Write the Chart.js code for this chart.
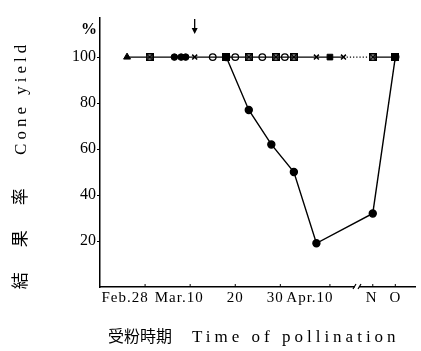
<!DOCTYPE html>
<html><head><meta charset="utf-8">
<script src="https://cdn.jsdelivr.net/npm/chart.js@4/dist/chart.umd.min.js"></script>
<style>html,body{margin:0;padding:0;background:#fff}#wrap{width:421px;height:351px}</style>
</head><body><div id="wrap"><canvas id="c" width="421" height="351"></canvas></div>
<script>
// ---- data (x = days after Feb.28; N and O placed after the axis break) ----
const xTickValues = [0, 10, 20, 30, 41, 50.5, 55.5];
const xTickLabels = ['Feb.28', 'Mar.10', '20', '30', 'Apr.10', 'N', 'O'];
const yTickValues = [20, 40, 60, 80, 100];

const triangleDays = [-4];
const triangleYield = [100];
const dotDays = [6.5, 8, 9];
const dotYield = [100, 100, 100];
const boxDays = [1, 18, 23, 29, 33, 50.5, 55.5];
const boxYield = [100, 100, 100, 100, 100, 100, 100];
const ringDays = [15, 20, 26, 31];
const ringYield = [100, 100, 100, 100];
const crossDays = [11, 38, 44];
const crossYield = [100, 100, 100];
const squareDays = [41];
const squareYield = [100];

const dropDays = [18, 23, 28, 33, 38, 50.5, 55.5];
const dropYield = [100, 77, 62, 50, 19, 32, 100];

const arrowDay = 11;
const breakDay = 47;

const yTitle = '結　果　率　 Cone yield';
const xTitleJa = '受粉時期';
const xTitleEn = 'Time of pollination';

// ---- helpers ----
const pts = (xs, ys) => xs.map((x, i) => ({x: x, y: ys[i]}));
const topLine = [].concat(
  pts(triangleDays, triangleYield), pts(dotDays, dotYield), pts(boxDays, boxYield),
  pts(ringDays, ringYield), pts(crossDays, crossYield), pts(squareDays, squareYield)
).sort((a, b) => a.x - b.x);

const boxImg = (function () {
  const c = document.createElement('canvas');
  c.width = 8; c.height = 8;
  const g = c.getContext('2d');
  g.strokeStyle = '#000'; g.lineWidth = 1.6;
  g.strokeRect(0.8, 0.8, 6.4, 6.4);
  g.beginPath(); g.moveTo(1, 1); g.lineTo(7, 7); g.moveTo(7, 1); g.lineTo(1, 7); g.stroke();
  return c;
})();

const SERIF = '"Liberation Serif", "DejaVu Serif", serif';
const JA = '"Liberation Serif", "Noto Sans CJK JP", serif';

const deco = {
  id: 'deco',
  afterDraw(chart) {
    const ctx = chart.ctx, xs = chart.scales.x, a = chart.chartArea;
    ctx.save();
    ctx.fillStyle = '#000'; ctx.strokeStyle = '#000';
    // x ticks (inward) and labels
    const shift = [-20, -11, 0, -5, -20, -1, 0];
    ctx.lineWidth = 1;
    ctx.font = '15px ' + SERIF;
    ctx.textAlign = 'center'; ctx.textBaseline = 'top';
    try { ctx.letterSpacing = '1px'; } catch (e) {}
    xTickValues.forEach((v, i) => {
      const px = xs.getPixelForValue(v);
      ctx.beginPath(); ctx.moveTo(px, a.bottom); ctx.lineTo(px, a.bottom - 3); ctx.stroke();
      ctx.fillText(xTickLabels[i], px + shift[i], a.bottom + 4);
    });
    try { ctx.letterSpacing = '0px'; } catch (e) {}
    // axis break
    const bx = xs.getPixelForValue(breakDay);
    ctx.fillStyle = '#fff';
    ctx.fillRect(bx - 2, a.bottom - 2, 4, 4);
    ctx.fillStyle = '#000';
    ctx.lineWidth = 1.2;
    ctx.beginPath();
    ctx.moveTo(bx - 4, a.bottom + 2); ctx.lineTo(bx - 1, a.bottom - 3);
    ctx.moveTo(bx + 1, a.bottom + 2); ctx.lineTo(bx + 4, a.bottom - 3);
    ctx.stroke();
    // arrow
    const ax = xs.getPixelForValue(arrowDay);
    ctx.lineWidth = 1.3;
    ctx.beginPath(); ctx.moveTo(ax, 19); ctx.lineTo(ax, 30); ctx.stroke();
    ctx.beginPath(); ctx.moveTo(ax - 3, 28); ctx.lineTo(ax + 3, 28); ctx.lineTo(ax, 34); ctx.closePath(); ctx.fill();
    // percent sign
    ctx.font = 'bold 16px ' + SERIF;
    ctx.textAlign = 'right'; ctx.textBaseline = 'middle';
    ctx.fillText('%', a.left - 3, 30);
    // y title
    ctx.save();
    ctx.translate(22, 165);
    ctx.rotate(-Math.PI / 2);
    ctx.font = '17px ' + JA;
    ctx.textAlign = 'center'; ctx.textBaseline = 'middle';
    try { ctx.letterSpacing = '4px'; } catch (e) {}
    ctx.fillText(yTitle, 0, 0);
    ctx.restore();
    // x title
    ctx.font = '16px ' + JA;
    ctx.textAlign = 'left'; ctx.textBaseline = 'middle';
    try { ctx.letterSpacing = '0px'; } catch (e) {}
    ctx.fillText(xTitleJa, 108, 338);
    ctx.font = '17px ' + SERIF;
    try { ctx.letterSpacing = '4px'; } catch (e) {}
    ctx.fillText(xTitleEn, 192, 338);
    ctx.restore();
  }
};

const markerDs = (label, data, style, fill, r, bw) => ({
  label, data, showLine: false, pointStyle: style, pointRadius: r, pointHoverRadius: r,
  pointBackgroundColor: fill, pointBorderColor: '#000', pointBorderWidth: bw
});

new Chart(document.getElementById('c'), {
  type: 'line',
  data: {
    datasets: [
      {label: 'line', data: topLine, borderColor: '#000', borderWidth: 1.2, pointRadius: 0,
       segment: {borderDash: c => (c.p0.parsed.x < breakDay && c.p1.parsed.x > breakDay) ? [1.2, 2] : undefined}},
      {label: 'drop', data: pts(dropDays, dropYield), borderColor: '#000', borderWidth: 1.4,
       pointStyle: 'circle', pointRadius: 3.5, pointBackgroundColor: '#000', pointBorderColor: '#000'},
      markerDs('tri', pts(triangleDays, triangleYield), 'triangle', '#000', 4, 1),
      markerDs('dot', pts(dotDays, dotYield), 'circle', '#000', 3.3, 1),
      markerDs('box', pts(boxDays, boxYield), boxImg, '#000', 4, 1),
      markerDs('ring', pts(ringDays, ringYield), 'circle', '#fff', 3.3, 1.3),
      markerDs('cross', pts(crossDays, crossYield), 'crossRot', '#000', 3.5, 1.5),
      markerDs('sq', pts(squareDays, squareYield), 'rect', '#000', 4, 1)
    ]
  },
  options: {
    responsive: false, animation: false, devicePixelRatio: 1,
    layout: {padding: {top: 18, right: 0, bottom: 0, left: 0}},
    plugins: {legend: {display: false}, tooltip: {enabled: false}},
    scales: {
      x: {type: 'linear', min: -10, max: 60,
          ticks: {display: false}, grid: {display: false},
          border: {display: true, color: '#000', width: 1.5},
          afterFit: s => { s.height = 64; }},
      y: {min: 0, max: 117,
          afterBuildTicks: s => { s.ticks = yTickValues.map(v => ({value: v})); },
          ticks: {color: '#000', font: {family: SERIF, size: 16}, padding: 1},
          grid: {drawOnChartArea: false, tickLength: 3, color: '#000', lineWidth: 1},
          border: {display: true, color: '#000', width: 1.5},
          afterFit: s => { s.width = 100; }}
    }
  },
  plugins: [deco]
});
</script>
</body></html>
